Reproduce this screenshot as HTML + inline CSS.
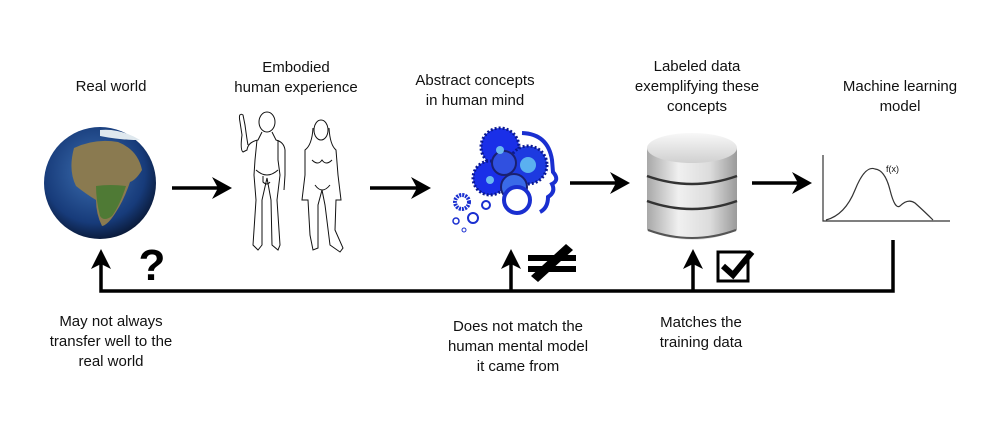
<!DOCTYPE html>
<html><head><meta charset="utf-8"><style>
html,body{margin:0;padding:0;background:#fff;width:1000px;height:422px;overflow:hidden}
svg text{font-family:"Liberation Sans",sans-serif;font-size:15px;fill:#111}
</style></head><body>
<svg width="1000" height="422" viewBox="0 0 1000 422" xmlns="http://www.w3.org/2000/svg">
<defs>
<radialGradient id="g1" cx="0.45" cy="0.4" r="0.65">
<stop offset="0" stop-color="#3d6fb0"/><stop offset="0.7" stop-color="#173b7a"/><stop offset="1" stop-color="#07122a"/></radialGradient>
<linearGradient id="cy" x1="0" x2="1"><stop offset="0" stop-color="#a8a8a8"/><stop offset="0.35" stop-color="#f0f0f0"/><stop offset="0.7" stop-color="#dcdcdc"/><stop offset="1" stop-color="#9a9a9a"/></linearGradient>
<linearGradient id="top" y1="0" y2="1" x1="0" x2="0"><stop offset="0" stop-color="#f8f8f8"/><stop offset="1" stop-color="#d0d0d0"/></linearGradient>
</defs>
<g text-anchor="middle">
<text x="111" y="91">Real world</text>
<text x="296" y="72">Embodied</text><text x="296" y="92">human experience</text>
<text x="475" y="85">Abstract concepts</text><text x="475" y="105">in human mind</text>
<text x="697" y="71">Labeled data</text><text x="697" y="91">exemplifying these</text><text x="697" y="111">concepts</text>
<text x="900" y="91">Machine learning</text><text x="900" y="111">model</text>
<text x="111" y="326">May not always</text><text x="111" y="346">transfer well to the</text><text x="111" y="366">real world</text>
<text x="518" y="331">Does not match the</text><text x="518" y="351">human mental model</text><text x="518" y="371">it came from</text>
<text x="701" y="327">Matches the</text><text x="701" y="347">training data</text>
</g>
<!-- globe -->
<circle cx="100" cy="183" r="56" fill="url(#g1)"/>
<path d="M74 148 Q95 138 118 142 Q138 150 142 170 Q136 180 130 182 Q124 200 116 212 Q108 225 102 226 Q96 214 96 200 Q86 194 76 186 Q68 170 74 148Z" fill="#8a7a50"/>
<path d="M96 186 Q110 184 126 186 Q120 205 112 216 Q104 222 100 216 Q96 200 96 186Z" fill="#4f7a35"/>
<path d="M100 130 Q120 128 140 140 Q120 140 100 136Z" fill="#dfe8ee"/>
<!-- arrows -->
<g stroke="#000" stroke-width="3.5" fill="none">
<line x1="172" y1="188" x2="220" y2="188"/>
<line x1="370" y1="188" x2="420" y2="188"/>
<line x1="570" y1="183" x2="618" y2="183"/>
<line x1="752" y1="183" x2="800" y2="183"/>
<polyline points="893,240 893,291 101,291 101,262"/>
<line x1="511" y1="291" x2="511" y2="262"/>
<line x1="693" y1="291" x2="693" y2="262"/>
</g>
<g fill="#000">
<polygon points="232,188 212,177 218,188 212,199"/>
<polygon points="431,188 411,177 417,188 411,199"/>
<polygon points="630,183 610,172 616,183 610,194"/>
<polygon points="812,183 792,172 798,183 792,194"/>
<polygon points="101,249 91,269 101,264 111,269"/>
<polygon points="511,249 501,269 511,264 521,269"/>
<polygon points="693,249 683,269 693,264 703,269"/>
</g>
<text x="152" y="280" text-anchor="middle" style="font-size:44px;font-weight:bold;fill:#000">?</text>
<!-- not equal -->
<g fill="#000"><rect x="528" y="255" width="48" height="6"/><rect x="528" y="266" width="48" height="6"/>
<polygon points="566,244 573,250 538,282 531,276"/></g>
<!-- checkbox -->
<rect x="718" y="252" width="30" height="29" fill="none" stroke="#000" stroke-width="3"/>
<polyline points="723,266 733,275 752,252" fill="none" stroke="#000" stroke-width="6"/>
<!-- database -->
<path d="M647 148 L647 230 Q692 250 737 230 L737 148Z" fill="url(#cy)"/>
<ellipse cx="692" cy="148" rx="45" ry="15" fill="url(#top)"/>
<path d="M647 176 Q692 192 737 176" stroke="#333" stroke-width="2.5" fill="none"/>
<path d="M647 201 Q692 217 737 201" stroke="#333" stroke-width="2.5" fill="none"/>
<path d="M648 230 Q692 246 736 230" stroke="#555" stroke-width="2" fill="none"/>
<!-- chart -->
<g stroke="#333" stroke-width="1.2" fill="none">
<polyline points="823,155 823,221 950,221"/>
<path d="M826 220 Q845 215 855 190 Q865 165 875 169 Q885 170 890 190 Q895 210 900 206 Q908 198 915 203 Q925 212 933 220"/>
</g>
<text x="886" y="172" style="font-size:9px">f(x)</text>
<!-- gears / head -->
<g>
<path d="M522 133 Q548 134 552 160 L553 172 Q560 180 552 184 Q556 192 548 197 Q548 208 540 212" fill="none" stroke="#1a2fd0" stroke-width="4"/>
<circle cx="500" cy="147" r="19" fill="#1a2fe8" stroke="#0a1890" stroke-width="3" stroke-dasharray="2 2"/>
<circle cx="528" cy="165" r="19" fill="#1d3ae0" stroke="#0a1890" stroke-width="3" stroke-dasharray="2 2"/>
<circle cx="528" cy="165" r="8" fill="#5ab0f0"/>
<circle cx="490" cy="178" r="17" fill="#1a2fe8" stroke="#0a1890" stroke-width="3" stroke-dasharray="2 2"/>
<circle cx="504" cy="163" r="12" fill="#3050e0" stroke="#1a2070" stroke-width="2"/>
<circle cx="514" cy="187" r="13" fill="#3a6ae8" stroke="#1a2070" stroke-width="2"/>
<circle cx="517" cy="200" r="13" fill="#fff" stroke="#1a2fd0" stroke-width="4"/>
<circle cx="500" cy="150" r="4" fill="#6ab8f0"/>
<circle cx="490" cy="180" r="4" fill="#6ab8f0"/>
<circle cx="462" cy="202" r="7" fill="#fff" stroke="#1a2fd0" stroke-width="4" stroke-dasharray="2 1"/>
<circle cx="486" cy="205" r="4" fill="none" stroke="#1a2fd0" stroke-width="2"/>
<circle cx="473" cy="218" r="5" fill="none" stroke="#1a2fd0" stroke-width="2"/>
<circle cx="456" cy="221" r="3" fill="none" stroke="#1a2fd0" stroke-width="1.5"/>
<circle cx="464" cy="230" r="2" fill="none" stroke="#1a2fd0" stroke-width="1"/>
</g>
<!-- people -->
<g fill="none" stroke="#111" stroke-width="1">
<ellipse cx="267" cy="122" rx="8" ry="10"/>
<path d="M262 132 L258 140 Q248 142 247 150 L243 152 Q240 150 242 135 L240 122 Q238 112 243 115 L245 125 Q247 140 248 145"/>
<path d="M272 132 L276 140 Q284 142 285 150 L285 175 L284 190 M257 140 L255 160 L254 175 L256 200 L253 245 L258 250 L262 245 L262 200 L267 178 L271 200 L272 245 L278 250 L280 245 L277 200 L280 175 L278 160 L278 140"/>
<path d="M256 170 Q267 180 278 170 M263 176 L263 182 Q267 186 270 182"/>
<ellipse cx="321" cy="130" rx="7" ry="10"/>
<path d="M313 128 Q312 145 305 150 L305 175 L302 200 L308 200 L310 235 L313 250 L318 248 L318 205 L322 190 L325 205 L330 245 L340 252 L343 248 L335 230 L336 200 L341 200 L338 175 L336 150 Q330 145 329 128"/>
<path d="M312 160 Q318 166 322 160 Q326 166 332 160 M315 185 Q322 195 330 185"/>
</g>
</svg>
</body></html>
